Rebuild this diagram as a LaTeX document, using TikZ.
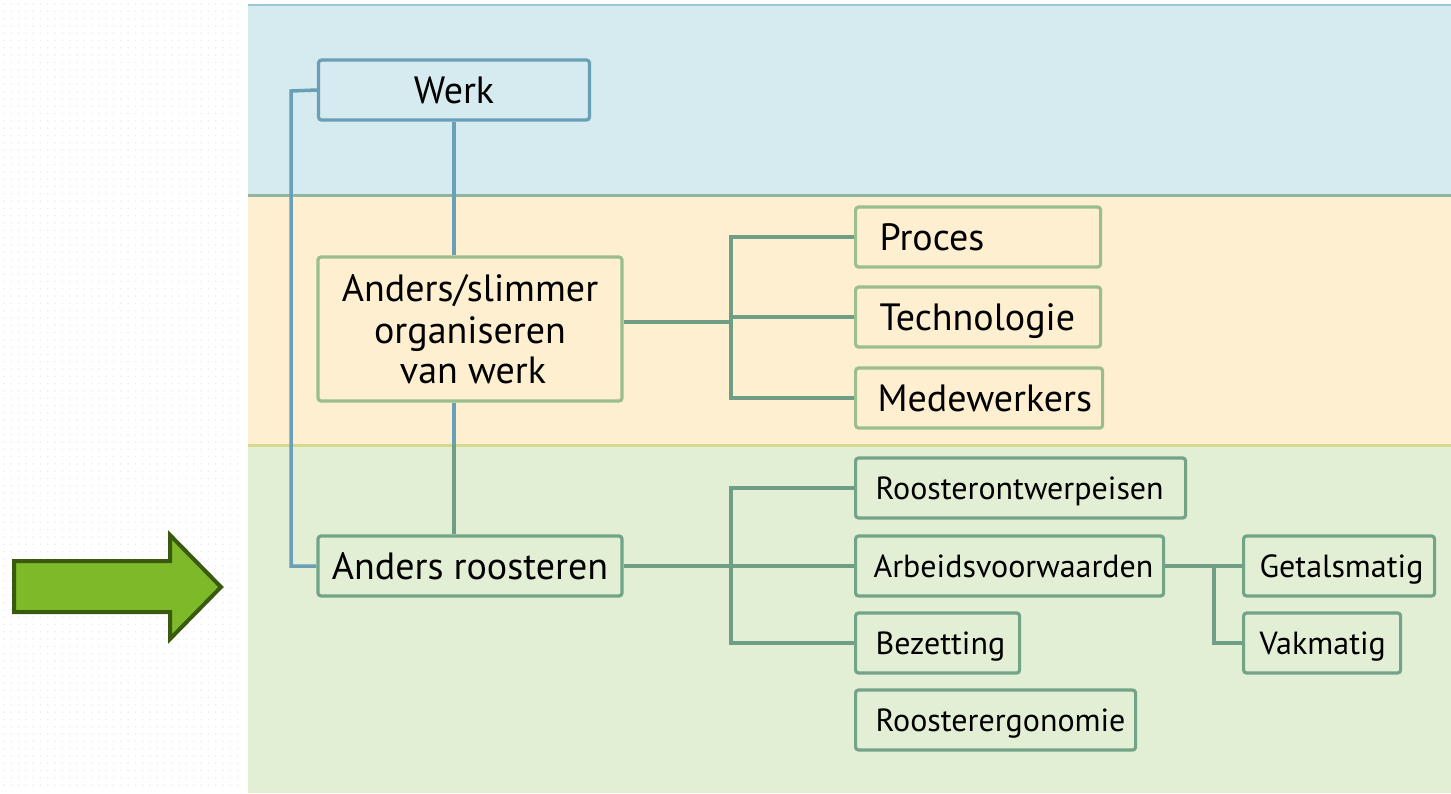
\documentclass[tikz,border=0pt]{standalone}
\usepackage{fontspec}
\setmainfont{PT Sans}
\definecolor{bandblue}{HTML}{D5EBF0}
\definecolor{bandyellow}{HTML}{FDEFCF}
\definecolor{bandgreen}{HTML}{E2EFD5}
\definecolor{lineblue}{HTML}{6A9FB8}
\definecolor{topline}{HTML}{9CC6D6}
\definecolor{sepone}{HTML}{8FB5A0}
\definecolor{septwo}{HTML}{D6D88E}
\definecolor{boxyellow}{HTML}{9ABF8C}
\definecolor{linegreen}{HTML}{6F9E84}
\definecolor{boxgreen}{HTML}{72A487}
\definecolor{arrowfill}{HTML}{7DB928}
\definecolor{arrowdraw}{HTML}{3A5A10}
\definecolor{dotc}{HTML}{E8EDF3}
\tikzset{
  bigtext/.style={font=\fontsize{38}{42}\selectfont},
  smalltext/.style={font=\fontsize{32}{36}\selectfont},
  boxbase/.style={draw, line width=3.2pt, rounded corners=3pt, minimum height=60pt, inner xsep=0pt, inner ysep=0pt},
  leafbox/.style={boxbase, anchor=west, text depth=0pt},
  conn/.style={line width=3.5pt, linegreen},
  connblue/.style={line width=3.5pt, lineblue}
}
\begin{document}
\begin{tikzpicture}[x=1pt,y=-1pt]
\useasboundingbox (0,0) rectangle (1451,793);
% dotted left background
\foreach \x in {4,11.3,...,244} \foreach \y in {4,11.3,...,790} \fill[dotc] (\x,\y) circle (0.9);
% bands
\fill[bandblue] (248,5) rectangle (1451,195);
\fill[bandyellow] (248,195) rectangle (1451,445);
\fill[bandgreen] (248,445) rectangle (1451,793);
\draw[topline, line width=2pt] (248,5) -- (1451,5);
\draw[sepone, line width=3pt] (248,195) -- (1451,195);
\draw[septwo, line width=3pt] (248,445) -- (1451,445);
% block arrow
\draw[fill=arrowfill, draw=arrowdraw, line width=4pt, line join=miter]
  (14,561) -- (170,561) -- (170,535) -- (221,587) -- (170,639) -- (170,612) -- (14,612) -- cycle;
% main nodes
\node[boxbase, lineblue, fill=bandblue, text=black, minimum width=271pt, bigtext] (werk) at (454,90) {Werk};
\node[boxbase, boxyellow, fill=bandyellow, text=black, minimum width=304pt, minimum height=144pt, bigtext, align=center] (slim) at (470,329) {Anders/slimmer\\organiseren\\[-2pt]\hspace*{6pt}van werk};
\node[boxbase, boxgreen, fill=bandgreen, text=black, minimum width=304pt, bigtext] (roost) at (470,566) {Anders roosteren};
% leaves yellow band
\node[leafbox, boxyellow, fill=bandyellow, text=black, text width=197pt, inner xsep=24pt, align=left, bigtext] (proc) at (854,237) {Proces};
\node[leafbox, boxyellow, fill=bandyellow, text=black, text width=197pt, inner xsep=24pt, align=left, bigtext] (tech) at (854,317) {Technologie};
\node[leafbox, boxyellow, fill=bandyellow, text=black, text width=203pt, inner xsep=22pt, align=left, bigtext] (mede) at (854,398) {Medewerkers};
% leaves green band
\node[leafbox, boxgreen, fill=bandgreen, text=black, text width=290pt, inner xsep=20pt, align=left, smalltext] (ront) at (854,488) {Roosterontwerpeisen};
\node[leafbox, boxgreen, fill=bandgreen, text=black, text width=272pt, inner xsep=18pt, align=left, smalltext] (arb) at (854,566) {Arbeidsvoorwaarden};
\node[leafbox, boxgreen, fill=bandgreen, text=black, text width=124pt, inner xsep=20pt, align=left, smalltext] (bez) at (854,643) {Bezetting};
\node[leafbox, boxgreen, fill=bandgreen, text=black, text width=240pt, inner xsep=20pt, align=left, smalltext] (ergo) at (854,720) {Roosterergonomie};
\node[leafbox, boxgreen, fill=bandgreen, text=black, text width=159pt, inner xsep=16pt, align=left, smalltext] (getal) at (1242,566) {Getalsmatig};
\node[leafbox, boxgreen, fill=bandgreen, text=black, text width=125pt, inner xsep=16pt, align=left, smalltext] (vak) at (1242,643) {Vakmatig};
% coordinates
\coordinate (bl) at (291,91);
\coordinate (mid) at (454,445);
\coordinate (ja) at (731,322);
\coordinate (jb) at (731,566);
\coordinate (jc) at (1214,566);
% connectors
\draw[connblue] (werk.west) -- (bl) |- (roost.west);
\draw[connblue] (werk.south) -- (werk.south |- slim.north);
\draw[connblue] (mid |- slim.south) -- (mid);
\draw[conn] (mid) -- (mid |- roost.north);
\draw[conn] (slim.east |- ja) -- (ja);
\draw[conn] (proc.west) -| (ja) |- (mede.west);
\draw[conn] (ja |- tech.west) -- (tech.west);
\draw[conn] (roost.east) -- (jb);
\draw[conn] (ront.west) -| (jb) |- (bez.west);
\draw[conn] (jb) -- (arb.west);
\draw[conn] (arb.east) -- (jc) |- (vak.west);
\draw[conn] (jc) -- (getal.west);
\end{tikzpicture}
\end{document}
